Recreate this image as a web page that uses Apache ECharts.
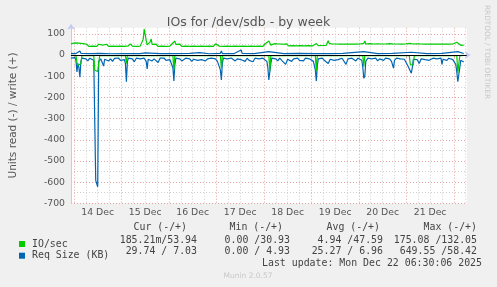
<!DOCTYPE html>
<html><head><meta charset="utf-8">
<script src="https://cdn.jsdelivr.net/npm/echarts@6/dist/echarts.min.js"></script>
<style>html,body{margin:0;padding:0;background:#f0f0f0}#c{width:497px;height:287px}</style>
</head><body><div id="c"></div>
<script>
// x = half-hour slot index since 13 Dec 22:30 (0..400)
const dayLabels = ['14 Dec','15 Dec','16 Dec','17 Dec','18 Dec','19 Dec','20 Dec','21 Dec'];

const ioWrite = [[0,53],[2,47],[4,57],[6,49],[8,56],[10,48],[12,54],[14,46],[16,51],[18,41],[20,50],[22,42],[24,49],[26,41],[28,51],[30,58],[32,47],[34,42],[36,51],[38,41],[40,49],[42,42],[44,51],[46,41],[48,49],[50,42],[52,51],[54,41],[56,49],[58,43],[60,53],[62,42],[64,51],[66,41],[68,49],[70,42],[72,48],[73,75],[74,122],[75,118],[76,70],[77,48],[79,44],[80,62],[81,76],[82,50],[84,42],[86,51],[88,41],[90,49],[92,42],[94,51],[96,41],[98,49],[100,42],[102,52],[104,58],[105,66],[106,50],[108,42],[110,51],[112,41],[114,49],[116,42],[118,51],[120,41],[122,49],[124,42],[126,51],[128,41],[130,49],[132,42],[134,51],[136,41],[138,49],[140,42],[142,51],[144,41],[146,53],[147,60],[148,48],[150,42],[152,51],[154,41],[156,49],[158,42],[160,51],[162,41],[164,49],[166,42],[168,51],[170,41],[172,49],[174,42],[176,51],[178,41],[180,49],[182,42],[184,51],[186,41],[188,49],[190,42],[192,51],[194,41],[196,52],[198,53],[200,66],[201,58],[202,47],[204,43],[206,54],[208,45],[210,52],[212,43],[214,51],[216,44],[218,53],[220,43],[222,51],[224,44],[226,53],[228,43],[230,51],[232,44],[234,53],[236,43],[238,51],[240,44],[242,53],[244,43],[246,51],[248,54],[250,44],[252,53],[254,45],[256,54],[258,46],[260,67],[261,55],[262,46],[264,52],[266,44],[268,52],[270,43],[272,51],[274,44],[276,52],[278,43],[280,51],[282,44],[284,52],[286,43],[288,51],[290,44],[292,52],[294,43],[296,55],[297,66],[298,52],[300,46],[302,54],[304,45],[306,52],[308,44],[310,53],[312,45],[314,52],[316,44],[318,52],[320,44],[322,54],[324,45],[326,52],[328,44],[330,52],[332,43],[334,51],[336,44],[338,52],[340,53],[342,55],[344,60],[346,52],[348,45],[350,53],[352,44],[354,52],[356,43],[358,51],[360,44],[362,52],[364,43],[366,51],[368,44],[370,52],[372,43],[374,51],[376,44],[378,52],[380,43],[382,51],[384,44],[386,52],[388,55],[390,60],[392,52],[394,46],[396,52],[397,47]];

const ioRead = [[0,-2],[5,-3],[6,-35],[7,-50],[9,-48],[10,-40],[11,-3],[23,-3],[24,-72],[27,-78],[28,-82],[29,-3],[55,-3],[56,-40],[57,-3],[103,-3],[104,-70],[105,-3],[151,-3],[152,-62],[153,-3],[200,-3],[201,-75],[202,-3],[247,-3],[248,-75],[249,-3],[295,-3],[296,-55],[297,-3],[342,-3],[343,-45],[346,-47],[347,-3],[390,-3],[391,-85],[392,-90],[393,-3],[397,-2]];

const sizeWrite = [[0,8],[5,7],[9,19],[10,8],[20,7],[30,8],[40,6],[55,7],[56,12],[57,7],[70,7],[75,10],[76,7],[90,7],[103,7],[104,14],[105,7],[120,8],[130,11],[131,7],[140,6],[151,8],[152,19],[153,7],[165,7],[172,24],[173,8],[185,7],[200,16],[201,8],[215,7],[230,8],[247,7],[248,16],[249,7],[262,7],[275,8],[296,16],[297,7],[310,7],[325,8],[344,13],[345,7],[360,7],[375,8],[391,16],[392,7],[397,7]];

const sizeRead = [[0,-15],[2,-20],[4,-12],[5,-25],[6,-80],[7,-40],[8,-60],[9,-105],[10,-30],[11,-15],[13,-22],[15,-18],[17,-28],[19,-15],[21,-22],[23,-25],[25,-592],[26,-600],[27,-622],[28,-30],[30,-18],[32,-25],[33,-52],[34,-20],[36,-15],[38,-28],[40,-18],[42,-30],[44,-16],[46,-22],[48,-14],[50,-25],[52,-18],[54,-22],[55,-40],[56,-126],[57,-30],[58,-15],[60,-22],[62,-18],[64,-32],[66,-15],[68,-22],[70,-18],[72,-25],[74,-15],[76,-30],[77,-66],[78,-20],[80,-15],[82,-28],[84,-18],[86,-22],[88,-35],[90,-15],[92,-20],[94,-14],[96,-25],[98,-18],[100,-22],[102,-30],[103,-60],[104,-123],[105,-45],[106,-15],[108,-22],[110,-18],[112,-28],[114,-33],[116,-15],[118,-22],[120,-18],[122,-30],[124,-20],[126,-15],[128,-25],[130,-18],[132,-22],[134,-14],[136,-28],[138,-18],[140,-25],[142,-15],[144,-22],[146,-18],[148,-30],[150,-35],[151,-70],[152,-118],[153,-40],[154,-15],[156,-22],[158,-18],[160,-25],[162,-14],[164,-20],[166,-28],[168,-18],[170,-15],[172,-22],[174,-20],[176,-30],[178,-15],[180,-25],[182,-18],[184,-32],[186,-15],[188,-22],[190,-18],[192,-25],[194,-15],[196,-20],[198,-30],[199,-60],[200,-118],[201,-112],[202,-40],[203,-15],[205,-22],[207,-18],[209,-28],[211,-15],[213,-25],[215,-18],[217,-44],[219,-20],[221,-15],[223,-30],[225,-18],[227,-22],[229,-15],[231,-25],[233,-20],[235,-28],[237,-15],[239,-22],[241,-18],[243,-25],[245,-30],[247,-70],[248,-123],[249,-50],[250,-18],[252,-22],[254,-15],[256,-25],[258,-18],[260,-40],[262,-20],[264,-15],[266,-25],[268,-18],[270,-22],[272,-30],[274,-15],[276,-20],[278,-44],[280,-18],[282,-25],[284,-15],[286,-22],[288,-28],[290,-15],[292,-20],[294,-25],[295,-60],[296,-110],[297,-100],[298,-30],[300,-15],[302,-22],[304,-18],[306,-25],[308,-15],[310,-28],[312,-18],[314,-20],[316,-25],[318,-15],[320,-22],[322,-18],[324,-30],[326,-62],[327,-25],[329,-15],[331,-20],[333,-18],[335,-25],[337,-20],[339,-28],[341,-55],[343,-52],[344,-86],[345,-60],[346,-20],[348,-15],[350,-22],[352,-40],[354,-18],[356,-15],[358,-22],[360,-18],[362,-25],[364,-30],[366,-15],[368,-22],[370,-18],[372,-25],[374,-15],[375,-44],[376,-20],[378,-18],[380,-25],[382,-15],[384,-20],[386,-22],[388,-28],[389,-45],[390,-80],[391,-126],[392,-129],[393,-60],[394,-25],[396,-30],[397,-33]];

const statHeaders = ['Cur (-/+)','Min (-/+)','Avg (-/+)','Max (-/+)'];
const ioStats = ['185.21m/53.94','0.00 /30.93','4.94 /47.59','175.08 /132.05'];
const sizeStats = ['29.74 / 7.03','0.00 / 4.93','25.27 / 6.96','649.55 /58.42'];
const lastUpdate = 'Last update: Mon Dec 22 06:30:06 2025';

const SLOTS = 401, MID0 = 3, NOON0 = 27, DAY = 48, SIX = 12;
const categories = Array.from({length: SLOTS}, (_, i) => String(i));
const RED = '#e6a3a3', GRAY = '#cfcfcf', AXIS = '#c3cbf2';
const SANS = 'DejaVu Sans', MONO = 'DejaVu Sans Mono';

const headerRight = [187, 283, 380, 477];
const valueRight = [197, 290, 383, 477];
const g = [];
statHeaders.forEach((t, i) => g.push({type:'text', x: headerRight[i], y: 227, style:{text:t, fill:'#444', font:'9.9px ' + MONO, textAlign:'right', textVerticalAlign:'middle'}}));
ioStats.forEach((t, i) => g.push({type:'text', x: valueRight[i], y: 240, style:{text:t, fill:'#444', font:'9.9px ' + MONO, textAlign:'right', textVerticalAlign:'middle'}}));
sizeStats.forEach((t, i) => g.push({type:'text', x: valueRight[i], y: 251.7, style:{text:t, fill:'#444', font:'9.9px ' + MONO, textAlign:'right', textVerticalAlign:'middle'}}));
g.push({type:'text', x: 482, y: 263, style:{text:lastUpdate, fill:'#444', font:'9.9px ' + MONO, textAlign:'right', textVerticalAlign:'middle'}});
g.push({type:'text', x: 248, y: 276, style:{text:'Munin 2.0.57', fill:'#c8c8c8', font:'7.5px ' + SANS, textAlign:'center', textVerticalAlign:'middle'}});
g.push({type:'text', x: 487, y: 5, rotation: -Math.PI/2, style:{text:'RRDTOOL / TOBI OETIKER', fill:'#c8c8c8', font:'7.3px ' + SANS, textAlign:'left', textVerticalAlign:'middle'}});

const lineSeries = (name, data, color, z) => ({
  type:'line', name, data, color, showSymbol:false, symbol:'none', z,
  lineStyle:{color, width:1.2}, animation:false
});

const chart = echarts.init(document.getElementById('c'), null, {renderer:'canvas'});
const legendCommon = {orient:'horizontal', left:14, itemWidth:6, itemHeight:6, icon:'rect',
  textStyle:{fontFamily:MONO, fontSize:9.9, color:'#444', padding:[0,0,0,2]}, selectedMode:false};
chart.setOption({
  backgroundColor:'#f0f0f0',
  animation:false,
  title:{text:'IOs for /dev/sdb - by week', left:'center', top:11,
    textStyle:{fontFamily:SANS, fontSize:12.5, fontWeight:'normal', color:'#555'}},
  legend:[
    Object.assign({data:['IO/sec'], top:234}, legendCommon),
    Object.assign({data:['Req Size (KB)'], top:245.7}, legendCommon)
  ],
  grid:{left:66.7, right:30.3, top:27.7, bottom:83.7, show:true, backgroundColor:'#ffffff', borderWidth:0},
  xAxis:{type:'category', data:categories, boundaryGap:false,
    axisLine:{show:true, lineStyle:{color:AXIS, width:1}, symbol:['none','arrow'], symbolSize:[6,6], symbolOffset:[0,4]},
    axisTick:{show:true, interval:(i) => i >= MID0 && (i - MID0) % DAY === 0, length:3, lineStyle:{color:RED}},
    axisLabel:{interval:(i) => i >= NOON0 && (i - NOON0) % DAY === 0,
      formatter:(v, i) => dayLabels[(Number(v) - NOON0) / DAY] || '',
      fontFamily:SANS, fontSize:9.3, color:'#555', margin:5},
    splitLine:{show:true, interval:(i) => i >= MID0 && (i - MID0) % SIX === 0,
      lineStyle:{color:[RED, GRAY, GRAY, GRAY], type:[1,2], width:1}}
  },
  yAxis:{type:'value', min:-700, max:129, interval:50,
    name:'Units read (-) / write (+)', nameLocation:'middle', nameGap:52,
    nameTextStyle:{fontFamily:SANS, fontSize:10.5, color:'#555'},
    axisLine:{show:true, lineStyle:{color:AXIS, width:1}, symbol:['none','arrow'], symbolSize:[6,6], symbolOffset:[0,4]},
    axisTick:{show:false},
    axisLabel:{formatter:(v) => (v % 100 === 0 ? String(v) : ''), fontFamily:SANS, fontSize:9.3, color:'#555', margin:6},
    splitLine:{show:true, showMaxLine:false, lineStyle:{color:[RED, GRAY], type:[1,2], width:1}}
  },
  series:[
    lineSeries('Req Size (KB)', sizeRead, '#0066b3', 2),
    lineSeries('Req Size (KB)', sizeWrite, '#0066b3', 2),
    lineSeries('IO/sec', ioRead, '#00cc00', 3),
    Object.assign(lineSeries('IO/sec', ioWrite, '#00cc00', 3), {
      markLine:{silent:true, symbol:['none','none'], label:{show:false}, animation:false,
        lineStyle:{color:'#000000', width:1, type:'solid'}, data:[{yAxis:0}]}
    })
  ],
  graphic:g
});
</script></body></html>
